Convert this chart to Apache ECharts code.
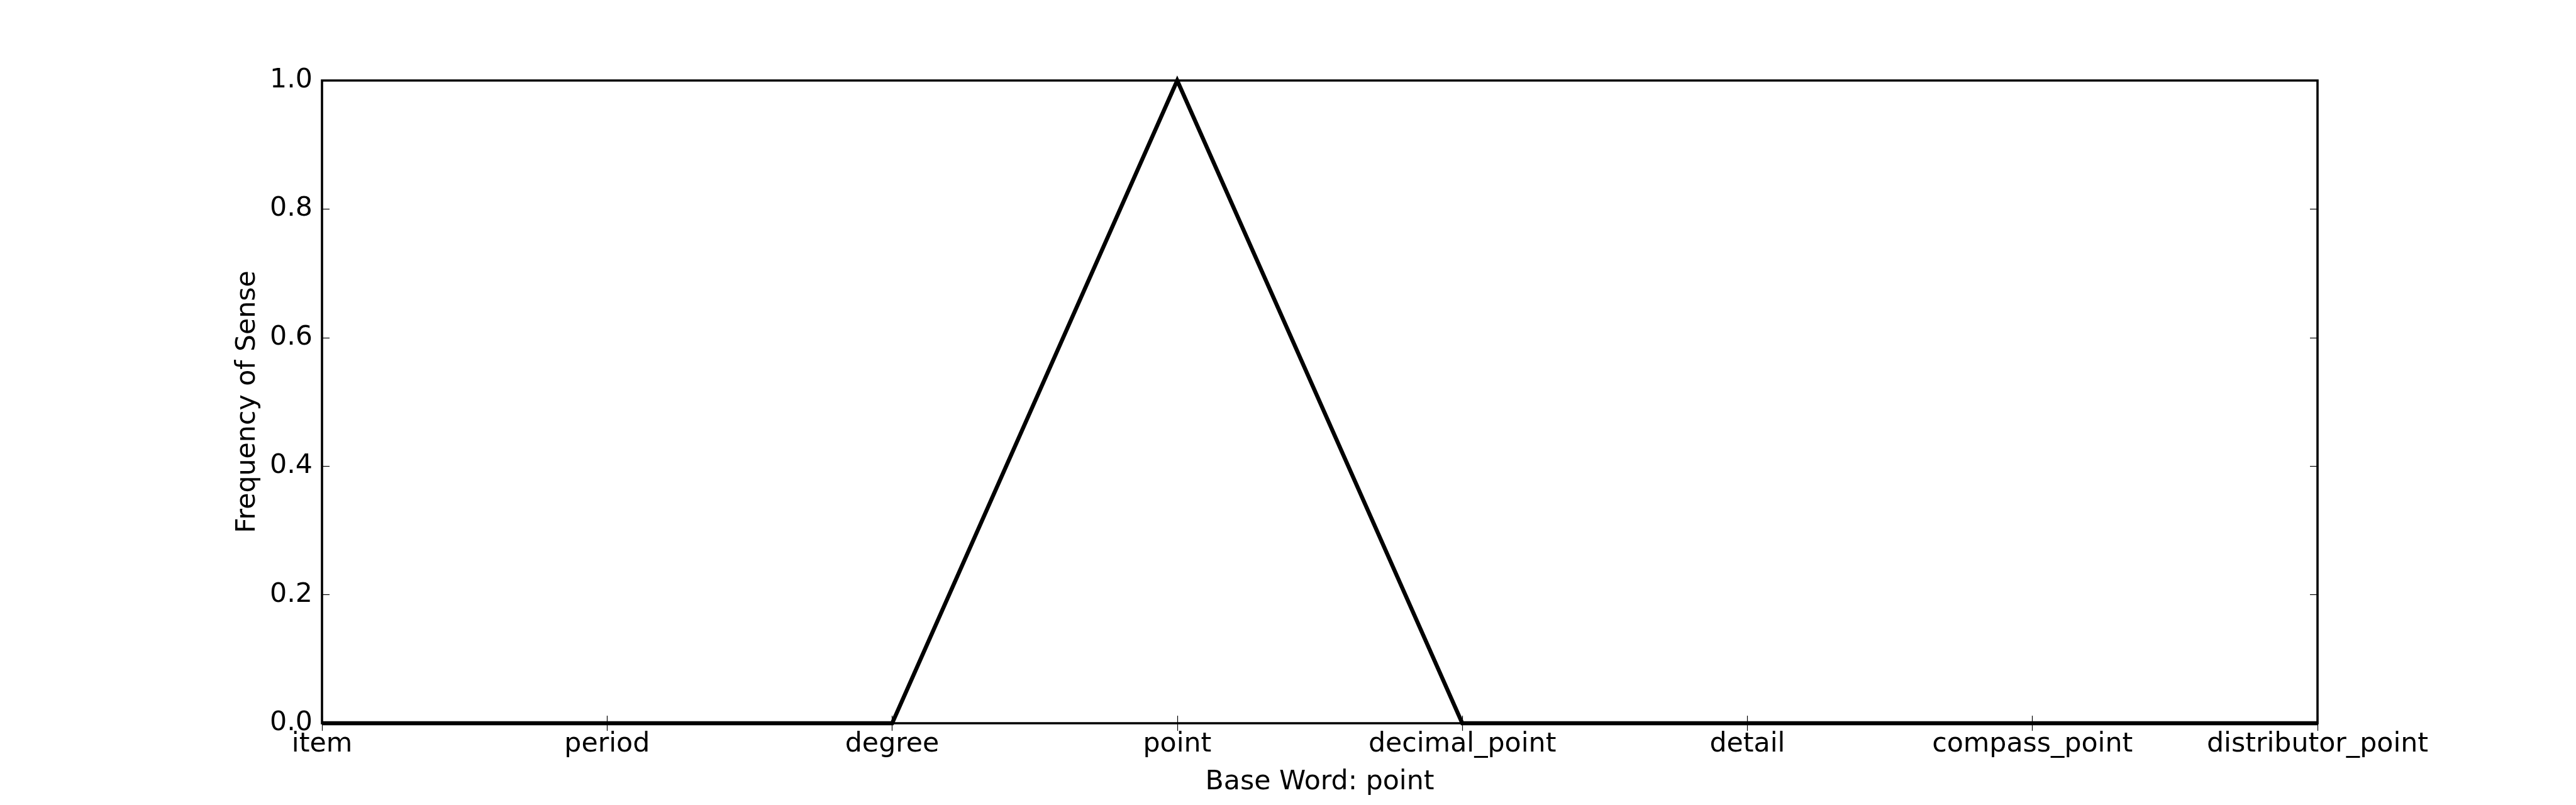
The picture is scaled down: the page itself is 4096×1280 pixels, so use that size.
<!DOCTYPE html>
<html>
<head>
<meta charset="utf-8">
<script src="https://cdn.jsdelivr.net/npm/echarts@6/dist/echarts.min.js"></script>
<style>
html,body{margin:0;padding:0;background:#fff;}
#chart{width:4096px;height:1280px;}
</style>
</head>
<body>
<div id="chart"></div>
<script>
const categories = ["item", "period", "degree", "point", "decimal_point", "detail", "compass_point", "distributor_point"];
const frequency = [0, 0, 0, 1, 0, 0, 0, 0];
const yMin = 0, yMax = 1, yStep = 0.2;
const xTitle = "Base Word: point";
const yTitle = "Frequency of Sense";

const FONT = "DejaVu Sans";
const FS = 42.7;
const chart = echarts.init(document.getElementById('chart'), null, {renderer: 'canvas'});
const tickStyle = {show: true, inside: true, length: 12, lineStyle: {color: '#000', width: 1.2}};
chart.setOption({
  animation: false,
  backgroundColor: '#fff',
  grid: {left: 512, right: 411, top: 128, bottom: 130, show: true, borderColor: '#000', borderWidth: 3.6, backgroundColor: 'transparent'},
  xAxis: [
    {type: 'category', data: categories, boundaryGap: false, position: 'bottom',
     axisLine: {show: false}, axisTick: Object.assign({alignWithLabel: true, interval: 0}, tickStyle),
     axisLabel: {interval: 0, color: '#000', fontFamily: FONT, fontSize: FS, margin: 12},
     splitLine: {show: false},
     name: xTitle, nameLocation: 'middle', nameGap: 72,
     nameTextStyle: {color: '#000', fontFamily: FONT, fontSize: FS}},
    {type: 'category', data: categories, boundaryGap: false, position: 'top',
     axisLine: {show: false}, axisTick: Object.assign({interval: 0}, tickStyle),
     axisLabel: {show: false}, splitLine: {show: false}}
  ],
  yAxis: [
    {type: 'value', min: yMin, max: yMax, interval: yStep, position: 'left',
     axisLine: {show: false}, axisTick: tickStyle,
     axisLabel: {color: '#000', fontFamily: FONT, fontSize: FS, margin: 15, formatter: v => v.toFixed(1)},
     splitLine: {show: false},
     name: yTitle, nameLocation: 'middle', nameRotate: 90, nameGap: 97,
     nameTextStyle: {color: '#000', fontFamily: FONT, fontSize: FS}},
    {type: 'value', min: yMin, max: yMax, interval: yStep, position: 'right',
     axisLine: {show: false}, axisTick: tickStyle, axisLabel: {show: false}, splitLine: {show: false}}
  ],
  series: [{
    type: 'line', data: frequency, xAxisIndex: 0, yAxisIndex: 0,
    showSymbol: false, symbol: 'none', clip: false,
    lineStyle: {color: '#000', width: 6.5, join: 'miter'}
  }]
});
</script>
</body>
</html>
